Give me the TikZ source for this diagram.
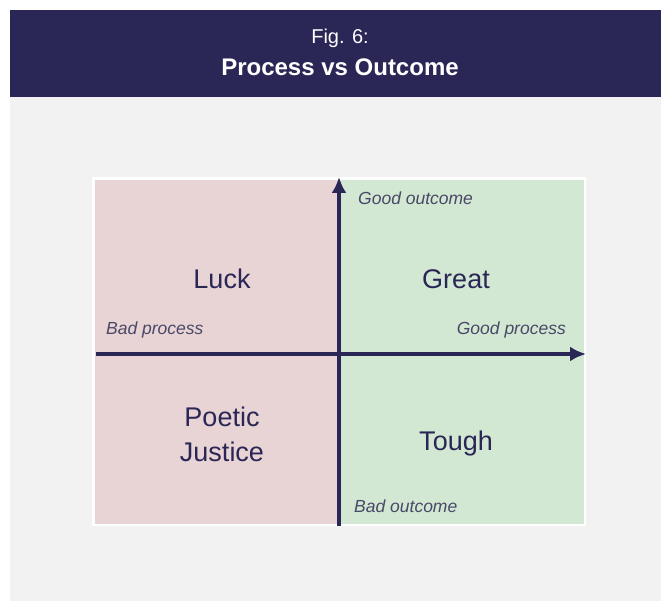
\documentclass[tikz,border=0pt]{standalone}
\usepackage{fontspec}
\setmainfont{Liberation Sans}
\usetikzlibrary{arrows.meta}
\definecolor{navy}{HTML}{2A2656}
\definecolor{pagegray}{HTML}{F2F2F2}
\definecolor{badpink}{HTML}{E8D4D4}
\definecolor{goodgreen}{HTML}{D2E8D2}
\definecolor{axislabel}{HTML}{4A4868}
\tikzset{
    quadrant/.style = {font = {\fontsize{27}{32}\selectfont}, navy, align=center},
    axisname/.style = {font = {\fontsize{17.5}{20}\selectfont\itshape}, axislabel, inner sep=0pt},
    axisline/.style = {navy, line width=3.3pt, -{Latex[length=16pt, width=15pt]}},
}
\begin{document}
\begin{tikzpicture}[x=1pt, y=-1pt]
    \useasboundingbox (0,0) rectangle (661,601);
    \fill[white] (0,0) rectangle (661,601);
    % page and title band
    \fill[pagegray] (10,97) rectangle (661,601);
    \fill[navy] (10,10) rectangle (661,97);
    \node[font = {\fontsize{20}{24}\selectfont}, white] (fignum) at (340,38) {Fig. 6:};
    \node[font = {\fontsize{24}{28}\selectfont\bfseries}, white] (title) at (340,67) {Process vs Outcome};
    % quadrants
    \fill[white] (92,177) rectangle (586,526);
    \fill[badpink] (95,180) rectangle (339,524);
    \fill[goodgreen] (339,180) rectangle (584,524);
    \node[quadrant] (luck) at (222,279) {Luck};
    \node[quadrant] (great) at (456,279) {Great};
    \node[quadrant, font = {\fontsize{27}{35}\selectfont}] (poetic) at (222,434) {Poetic\\Justice};
    \node[quadrant] (tough) at (456,444) {Tough};
    % axes
    \coordinate (xmin) at (96,354);
    \coordinate (xmax) at (586,354);
    \coordinate (ymin) at (339,526);
    \coordinate (ymax) at (339,177);
    \draw[axisline] (xmin) -- (xmax);
    \draw[axisline] (ymin) -- (ymax);
    \node[axisname, anchor=west] (badproc) at (106,330) {Bad process};
    \node[axisname, anchor=east] (goodproc) at (566,330) {Good process};
    \node[axisname, anchor=west] (goodout) at (358,198) {Good outcome};
    \node[axisname, anchor=west] (badout) at (354,506) {Bad outcome};
\end{tikzpicture}
\end{document}
